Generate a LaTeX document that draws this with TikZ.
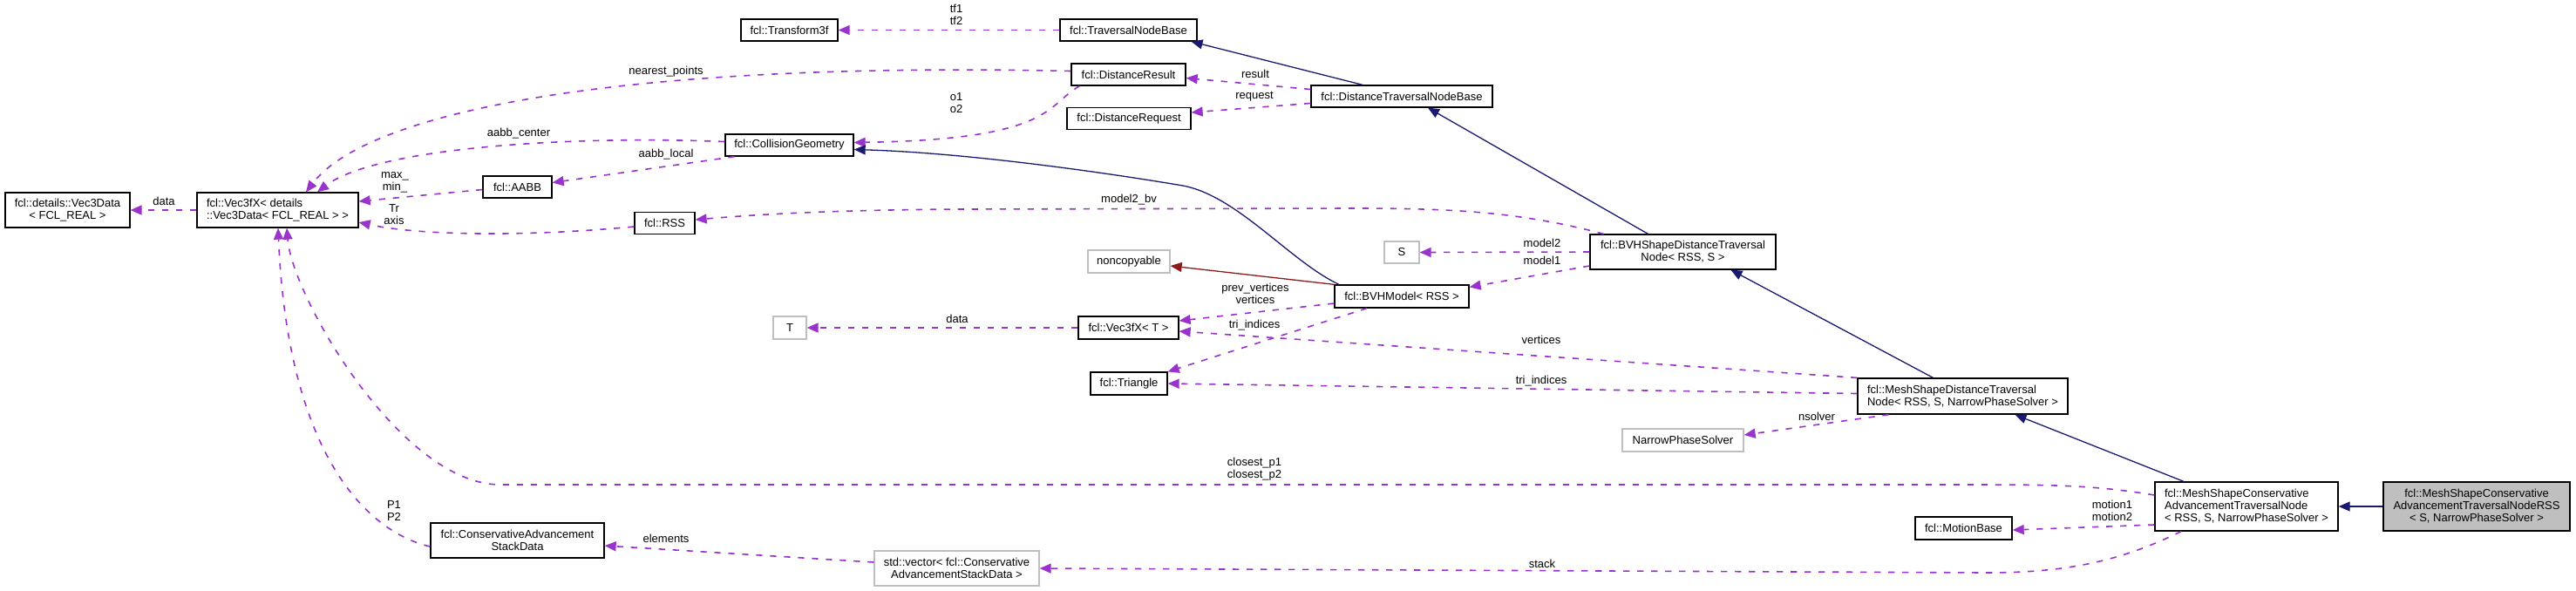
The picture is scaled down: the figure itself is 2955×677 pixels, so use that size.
\documentclass[tikz,border=0pt]{standalone}
\usepackage{fontspec}
\setmainfont{Liberation Sans}
\usetikzlibrary{arrows.meta,calc}
\definecolor{dxpurple}{HTML}{9A32CD}
\definecolor{dxblue}{HTML}{191970}
\definecolor{dxred}{HTML}{8B1A1A}
\definecolor{dxline}{HTML}{BFBFBF}
\definecolor{dxfill}{HTML}{BFBFBF}
\begin{document}
\begin{tikzpicture}[x=0.5pt,y=-0.5pt,
  every node/.style={font=\fontsize{6.5}{7}\selectfont, inner sep=0pt},
  cls/.style={draw=black, line width=0.65pt, fill=white, align=center},
  ext/.style={draw=dxline, line width=0.65pt, fill=white, align=center},
  mainbox/.style={draw=black, line width=0.65pt, fill=dxfill, align=center},
  use/.style={draw=dxpurple, line width=0.8pt, dash pattern=on 3.6pt off 4.4pt, -{Triangle[length=6.5pt,width=5.5pt]}},
  inh/.style={draw=dxblue, line width=0.65pt, -{Triangle[length=6.5pt,width=5.5pt]}},
  priv/.style={draw=dxred, line width=0.65pt, -{Triangle[length=6.5pt,width=5.5pt]}},
  lbl/.style={align=center}
]
\useasboundingbox (0,0) rectangle (2955,677);
\fill[white] (0,0) rectangle (2955,677);

% nodes
\node[cls, minimum width=71.5pt, minimum height=20pt] (vdata) at (77.5,241) {fcl::details::Vec3Data\\< FCL\_REAL >};
\node[cls, align=left, minimum width=92.5pt, minimum height=20pt] (vdet) at (318.5,241) {fcl::Vec3fX< details\\::Vec3Data< FCL\_REAL > >};
\node[cls, minimum width=55.5pt, minimum height=12.5pt] (tf) at (905.5,34.5) {fcl::Transform3f};
\node[cls, minimum width=73.5pt, minimum height=12.5pt] (cg) at (905.5,166.5) {fcl::CollisionGeometry};
\node[cls, minimum width=39.5pt, minimum height=12.5pt] (aabb) at (593.5,214.5) {fcl::AABB};
\node[cls, minimum width=34.5pt, minimum height=12.5pt] (rss) at (762.5,256) {fcl::RSS};
\node[cls, minimum width=78.5pt, minimum height=12.5pt] (tnb) at (1294.5,34.5) {fcl::TraversalNodeBase};
\node[cls, minimum width=65.5pt, minimum height=12.5pt] (dres) at (1294.5,85.5) {fcl::DistanceResult};
\node[cls, minimum width=71pt, minimum height=12.5pt] (dreq) at (1295,136) {fcl::DistanceRequest};
\node[cls, minimum width=104pt, minimum height=12.5pt] (dtnb) at (1608,110.5) {fcl::DistanceTraversalNodeBase};
\node[ext, minimum width=20pt, minimum height=12.5pt] (S) at (1608,289.5) {S};
\node[ext, minimum width=47pt, minimum height=13pt] (noncop) at (1295,300) {noncopyable};
\node[cls, minimum width=106.5pt, minimum height=20pt] (bvhsdtn) at (1930.5,289) {fcl::BVHShapeDistanceTraversal\\Node< RSS, S >};
\node[cls, minimum width=77pt, minimum height=13pt] (bvhm) at (1608,340) {fcl::BVHModel< RSS >};
\node[ext, minimum width=19pt, minimum height=13pt] (T) at (906,376) {T};
\node[cls, minimum width=57.5pt, minimum height=13pt] (v3t) at (1294.5,376) {fcl::Vec3fX< T >};
\node[cls, minimum width=44pt, minimum height=13pt] (tri) at (1295,440) {fcl::Triangle};
\node[cls, align=left, minimum width=120.5pt, minimum height=20.5pt] (msdtn) at (2251.5,454.5) {fcl::MeshShapeDistanceTraversal\\Node< RSS, S, NarrowPhaseSolver >};
\node[ext, minimum width=69.5pt, minimum height=13pt] (nps) at (1930.5,505) {NarrowPhaseSolver};
\node[cls, align=left, minimum width=105pt, minimum height=28pt] (mscatn) at (2577,581) {fcl::MeshShapeConservative\\AdvancementTraversalNode\\< RSS, S, NarrowPhaseSolver >};
\node[mainbox, minimum width=107pt, minimum height=28pt] (gray) at (2841,581) {fcl::MeshShapeConservative\\AdvancementTraversalNodeRSS\\< S, NarrowPhaseSolver >};
\node[cls, minimum width=55.5pt, minimum height=13pt] (mb) at (2252.5,606) {fcl::MotionBase};
\node[cls, minimum width=99.5pt, minimum height=20pt] (casd) at (593.5,620) {fcl::ConservativeAdvancement\\StackData};
\node[ext, minimum width=94.5pt, minimum height=20pt] (svec) at (1097.5,652) {std::vector< fcl::Conservative\\AdvancementStackData >};

% edges
\draw[use] (vdet.west) -- (vdata.east);
\draw[use] ($(dres.west)+(0,-4)$) .. controls (700,70) and (420,130) .. ($(vdet.north)+(32.5,0)$);
\draw[use] ($(cg.west)+(0,-4)$) .. controls (650,155) and (430,170) .. ($(vdet.north)+(45.5,0)$);
\draw[use] ($(cg.south)+(-63,0)$) -- ($(aabb.east)+(0,-5)$);
\draw[use] ($(aabb.west)+(0,3)$) -- ($(vdet.east)+(0,-10)$);
\draw[use] ($(rss.west)+(0,4)$) .. controls (600,272) and (480,270) .. ($(vdet.east)+(0,14)$);
\draw[use] (tnb.west) -- (tf.east);
\draw[inh] ($(dtnb.north)+(-45,0)$) -- ($(tnb.south)+(72,0)$);
\draw[use] ($(dtnb.west)+(0,-8)$) -- ($(dres.east)+(0,4)$);
\draw[use] ($(dtnb.west)+(0,8)$) -- ($(dreq.east)+(0,-7)$);
\draw[use] ($(dres.south)+(-56,0)$) .. controls (1200,120) and (1210,160) .. ($(cg.east)+(0,-3)$);
\draw[inh] ($(bvhm.north)+(-72,0)$) .. controls (1480,300) and (1420,225) .. (1357,213) .. controls (1250,195) and (1100,175) .. ($(cg.east)+(0,5)$);
\draw[priv] (bvhm.north west) -- ($(noncop.east)+(0,5)$);
\draw[use] ($(bvhm.west)+(0,8)$) -- ($(v3t.east)+(0,-8)$);
\draw[use] ($(bvhm.south)+(-40,0)$) -- (tri.north east);
\draw[use] (v3t.west) -- (T.east);
\draw[inh] ($(bvhsdtn.north)+(-40,0)$) -- ($(dtnb.south)+(30,0)$);
\draw[use] ($(bvhsdtn.north)+(-91,0)$) .. controls (1740,242) and (1660,239) .. (1550,239) -- (1100,240) .. controls (950,241) and (870,246) .. ($(rss.east)+(0,-4)$);
\draw[use] (bvhsdtn.west) -- (S.east);
\draw[use] ($(bvhsdtn.west)+(0,16)$) -- ($(bvhm.north east)+(0,3)$);
\draw[inh] ($(msdtn.north)+(-34,0)$) -- ($(bvhsdtn.south)+(55,0)$);
\draw[use] (msdtn.north west) -- ($(v3t.east)+(0,4)$);
\draw[use] ($(msdtn.west)+(0,-3)$) -- (tri.east);
\draw[use] ($(msdtn.south)+(-85,0)$) -- ($(nps.east)+(0,-6)$);
\draw[inh] ($(mscatn.north)+(-72,0)$) -- ($(msdtn.south)+(60,0)$);
\draw[use] ($(mscatn.west)+(0,-13)$) .. controls (2400,556) and (2350,556) .. (2250,556) -- (574,556) .. controls (460,556) and (335,340) .. ($(vdet.south)+(10.5,0)$);
\draw[use] ($(mscatn.west)+(0,21)$) -- ($(mb.east)+(0,2)$);
\draw[use] ($(mscatn.south)+(-75,0)$) .. controls (2440,640) and (2380,657) .. (2280,657) -- (svec.east);
\draw[use] ($(svec.west)+(0,-7)$) -- ($(casd.east)+(0,6)$);
\draw[use] ($(casd.west)+(0,7)$) .. controls (420,610) and (330,520) .. ($(vdet.south)+(0.5,0)$);
\draw[inh] (gray.west) -- (mscatn.east);

% labels
\node[lbl] (l-data1) at (188,231) {data};
\node[lbl] (l-near) at (764,82) {nearest\_points};
\node[lbl] (l-ac) at (595,153) {aabb\_center};
\node[lbl] (l-al) at (764,177) {aabb\_local};
\node[lbl] (l-mm) at (453,209) {max\_\\min\_};
\node[lbl] (l-tr) at (452,246) {Tr\\axis};
\node[lbl] (l-tf) at (1097,17) {tf1\\tf2};
\node[lbl] (l-res) at (1440,85) {result};
\node[lbl] (l-req) at (1439,111) {request};
\node[lbl] (l-o) at (1097,118) {o1\\o2};
\node[lbl] (l-m2bv) at (1295,229) {model2\_bv};
\node[lbl] (l-m2) at (1769,279) {model2};
\node[lbl] (l-m1) at (1769,299) {model1};
\node[lbl] (l-pv) at (1440,337) {prev\_vertices\\vertices};
\node[lbl] (l-ti1) at (1439,373) {tri\_indices};
\node[lbl] (l-data2) at (1098,366) {data};
\node[lbl] (l-v2) at (1768,390) {vertices};
\node[lbl] (l-ti2) at (1768,437) {tri\_indices};
\node[lbl] (l-ns) at (2084,478) {nsolver};
\node[lbl] (l-cp) at (1439,538) {closest\_p1\\closest\_p2};
\node[lbl] (l-mo) at (2423,586) {motion1\\motion2};
\node[lbl] (l-st) at (1769,647) {stack};
\node[lbl] (l-el) at (764,618) {elements};
\node[lbl] (l-p) at (452,586) {P1\\P2};
\end{tikzpicture}
\end{document}
